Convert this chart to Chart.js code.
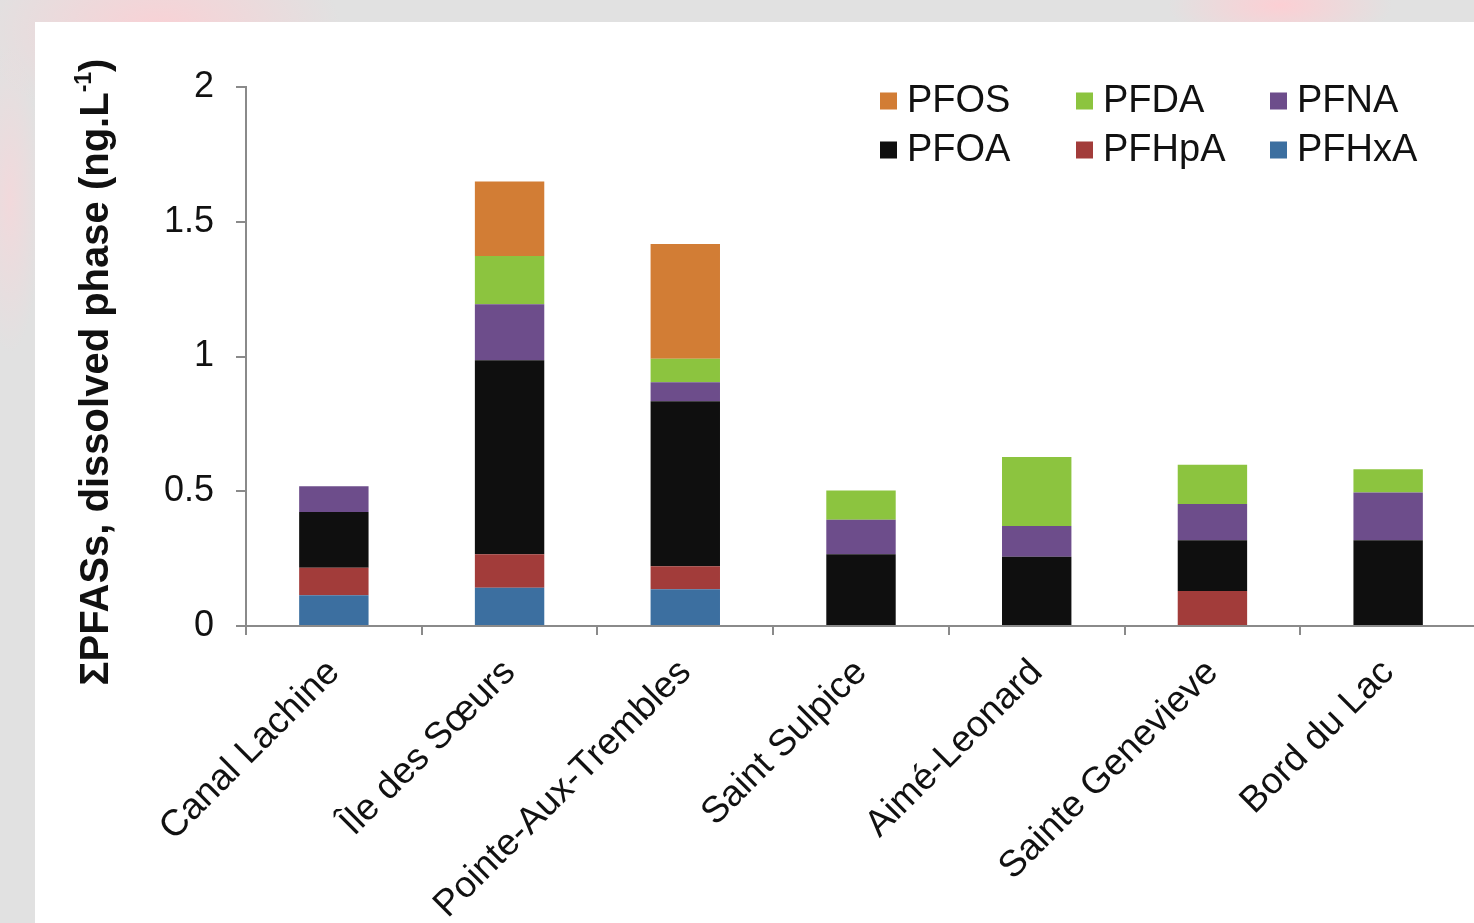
<!DOCTYPE html>
<html><head><meta charset="utf-8">
<script src="https://cdn.jsdelivr.net/npm/chart.js@4"></script>
<style>
html,body{margin:0;padding:0;width:1474px;height:923px;overflow:hidden;}
body{position:relative;background:#e1e1e1;}
#bg{position:absolute;left:0;top:0;width:1474px;height:923px;background:
 radial-gradient(ellipse 260px 140px at 160px 30px, rgba(255,205,210,0.8), rgba(255,205,210,0) 70%),
 radial-gradient(ellipse 160px 60px at 1280px 5px, rgba(255,205,210,0.9), rgba(255,205,210,0) 70%),
 radial-gradient(ellipse 45px 220px at 10px 200px, rgba(255,210,215,0.55), rgba(255,210,215,0) 70%),
 #e1e1e1;}
#panel{position:absolute;left:35px;top:22px;width:1445px;height:901px;background:#fff;}
</style></head>
<body>
<div id="bg"></div>
<div id="panel"><canvas id="c"></canvas></div>
<script>
const categories = ['Canal Lachine','Île des Sœurs','Pointe-Aux-Trembles','Saint Sulpice','Aimé-Leonard','Sainte Genevieve','Bord du Lac'];
const PFHxA = [0.114, 0.142, 0.136, 0, 0, 0, 0];
const PFHpA = [0.102, 0.124, 0.086, 0, 0, 0.130, 0];
const PFOA  = [0.207, 0.720, 0.612, 0.266, 0.257, 0.188, 0.318];
const PFNA  = [0.096, 0.208, 0.070, 0.128, 0.114, 0.135, 0.177];
const PFDA  = [0, 0.179, 0.088, 0.109, 0.256, 0.145, 0.087];
const PFOS  = [0, 0.276, 0.425, 0, 0, 0, 0];
const yTicks = [0, 0.5, 1, 1.5, 2];
const yTickLabels = ['0', '0.5', '1', '1.5', '2'];
const legendOrder = ['PFOS','PFDA','PFNA','PFOA','PFHpA','PFHxA'];

const FONT = '"Liberation Sans", Arial, sans-serif';
const colors = {PFHxA:'#3c6fa0', PFHpA:'#a23c3a', PFOA:'#0f0f0f', PFNA:'#6d4d8b', PFDA:'#8cc43f', PFOS:'#d27d35'};
const series = {PFHxA, PFHpA, PFOA, PFNA, PFDA, PFOS};
const stackOrder = ['PFHxA','PFHpA','PFOA','PFNA','PFDA','PFOS'];

const datasets = stackOrder.map(n => ({
  label: n, data: series[n], backgroundColor: colors[n], borderWidth: 0,
  barPercentage: 0.395, categoryPercentage: 1.0
}));

const yTitlePlugin = {
  id: 'yTitle',
  afterDraw(chart) {
    const ctx = chart.ctx; ctx.save();
    const main = 'ΣPFASs, dissolved phase (ng.L', sup = '-1', end = ')';
    const f = 'bold 40px ' + FONT, fs = 'bold 23px ' + FONT;
    ctx.font = f; const w1 = ctx.measureText(main).width, w3 = ctx.measureText(end).width;
    ctx.font = fs; const w2 = ctx.measureText(sup).width;
    const total = w1 + w2 + w3;
    ctx.translate(62, 350); ctx.rotate(-Math.PI / 2);
    ctx.textBaseline = 'middle'; ctx.textAlign = 'left'; ctx.fillStyle = '#111';
    let x = -total / 2;
    ctx.font = f; ctx.fillText(main, x, 0); x += w1;
    ctx.font = fs; ctx.fillText(sup, x, -12); x += w2;
    ctx.font = f; ctx.fillText(end, x, 0);
    ctx.restore();
  }
};

const gridLegendPlugin = {
  id: 'gridLegend',
  afterDraw(chart) {
    const ctx = chart.ctx; ctx.save();
    const colX = [845, 1041, 1235], rowY = [79, 128], box = 17;
    ctx.font = '38px ' + FONT; ctx.textBaseline = 'middle'; ctx.textAlign = 'left';
    legendOrder.forEach((name, i) => {
      const ds = chart.data.datasets.find(d => d.label === name);
      const cx = colX[i % 3], cy = rowY[Math.floor(i / 3)];
      ctx.fillStyle = ds.backgroundColor;
      ctx.fillRect(cx, cy - box / 2, box, box);
      ctx.fillStyle = '#111';
      ctx.fillText(name, cx + 27, cy + 1);
    });
    ctx.restore();
  }
};

new Chart(document.getElementById('c'), {
  type: 'bar',
  data: { labels: categories, datasets },
  plugins: [yTitlePlugin, gridLegendPlugin],
  options: {
    responsive: true, maintainAspectRatio: false, animation: false,
    layout: { padding: { top: 65, right: 4, bottom: 0, left: 0 } },
    plugins: { legend: { display: false }, tooltip: { enabled: false } },
    scales: {
      x: {
        stacked: true,
        grid: { offset: true, drawOnChartArea: false, drawTicks: true, tickLength: 9, color: '#8a8a8a', lineWidth: 2 },
        border: { color: '#8a8a8a', width: 2 },
        ticks: { minRotation: 45, maxRotation: 45, autoSkip: false, color: '#111', padding: 16, font: { family: FONT, size: 37 } },
        afterFit: s => { s.height = 297; }
      },
      y: {
        stacked: true, min: 0, max: 2,
        afterBuildTicks: s => { s.ticks = yTicks.map(v => ({ value: v })); },
        grid: { drawOnChartArea: false, tickLength: 10, color: '#8a8a8a', lineWidth: 2 },
        border: { color: '#8a8a8a', width: 2 },
        ticks: { color: '#111', padding: 22, font: { family: FONT, size: 36 },
          callback: (v, i) => yTickLabels[i] },
        afterFit: s => { s.width = 211; }
      }
    }
  }
});
</script>
</body></html>
